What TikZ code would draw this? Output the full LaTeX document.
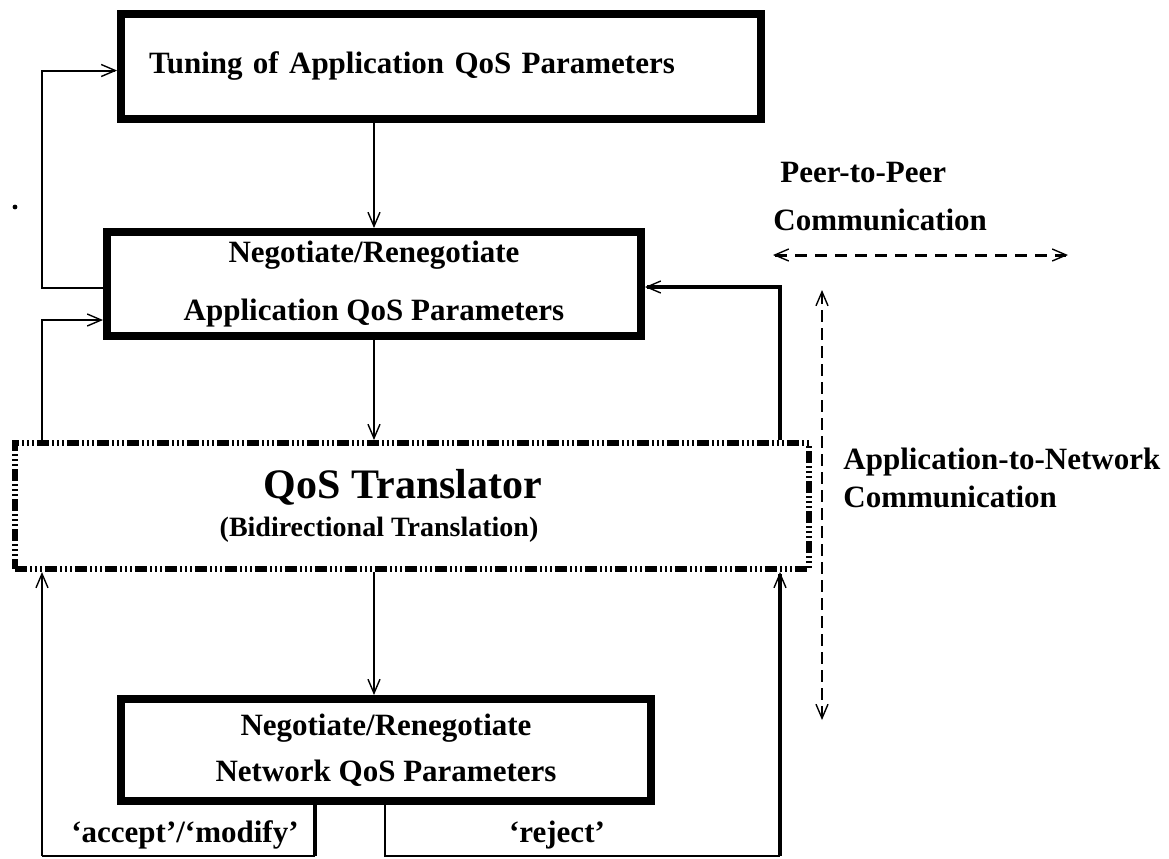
\documentclass[tikz,border=0pt]{standalone}
\usepackage{fontspec}
\setmainfont{Liberation Serif}
\usetikzlibrary{arrows.meta, positioning, calc}
\tikzset{
	qosbox/.style   ={rectangle, draw=black, line width=4pt, align=center, inner sep=0pt},
	transbox/.style ={rectangle, draw=black, line width=3pt, inner sep=0pt,
		dash pattern=on 6pt off 1.5pt on 1pt off 1.5pt on 1pt off 1.5pt on 1pt off 1.5pt},
	lbl/.style      ={font=\fontsize{15.5}{18}\selectfont\bfseries},
	barb/.style     ={-{Straight Barb[length=7pt, width=6pt, line width=0.7pt]}},
	flow/.style     ={barb, line width=1pt},
	loopthin/.style ={line width=1pt},
	loopthick/.style={line width=2pt},
	% dashed communication arrows
	peer/.style     ={{Straight Barb[length=7pt, width=6pt, line width=0.7pt]}-{Straight Barb[length=7pt, width=6pt, line width=0.7pt]}, line width=1.5pt, dash pattern=on 6pt off 4pt},
	a2n/.style      ={{Straight Barb[length=7pt, width=6pt, line width=0.7pt]}-{Straight Barb[length=7pt, width=6pt, line width=0.7pt]}, line width=1pt, dash pattern=on 6pt off 3pt},
}
\begin{document}
\begin{tikzpicture}[x=0.5pt, y=-0.5pt]
	\useasboundingbox (0,0) rectangle (1169,858);
	% boxes
	\node[qosbox, lbl, minimum width=320pt, minimum height=52.5pt, text width=292pt, align=left]
		(tune) at (441,66.5) {Tuning of Application QoS Parameters};
	\node[qosbox, minimum width=267pt, minimum height=52pt, font=\fontsize{15.5}{29}\selectfont\bfseries]
		(app) at (374,284) {Negotiate/Renegotiate\\ Application QoS Parameters};
	\node[transbox, minimum width=397pt, minimum height=63pt] (trans) at (412,506) {};
	\node[font=\fontsize{21}{24}\selectfont\bfseries] (transname) at (403,487) {QoS Translator};
	\node[font=\fontsize{14}{16}\selectfont\bfseries] (transsub) at (379,530) {(Bidirectional Translation)};
	\node[qosbox, minimum width=265pt, minimum height=51pt, font=\fontsize{15.5}{23}\selectfont\bfseries]
		(net) at (386,750) {Negotiate/Renegotiate\\ Network QoS Parameters};

	% corner points of the feedback paths
	\coordinate (accdown) at (315,856);
	\coordinate (accleft) at (42,856);
	\coordinate (rejdown) at (385,856);
	\coordinate (rejright) at (780,856);

	% main flow
	\draw[flow] (app.north |- tune.south) -- (app.north);
	\draw[flow] (app.south) -- (app.south |- trans.north);
	\draw[flow] (app.south |- trans.south) -- (app.south |- net.north);

	% loops on the left
	\draw[flow] ([yshift=-2pt]app.west) -- ([yshift=-2pt]app.west -| accleft) |- ([yshift=-2pt]tune.west);
	\draw[loopthin, barb] (trans.north -| accleft) |- ([yshift=-18pt]app.west);
	% loop on the right
	\draw[loopthick, barb] (trans.north -| rejright) |- ([yshift=-1.5pt]app.east);

	% answers of the network
	\draw[loopthick] (net.south -| accdown) -- (accdown);
	\draw[loopthin] (accdown) -- (accleft);
	\draw[loopthin, barb] (accleft) -- (accleft |- trans.south);
	\draw[loopthin] (net.south -| rejdown) -- (rejdown) -- (rejright);
	\draw[loopthick, barb] (rejright) -- (rejright |- trans.south);
	\node[lbl] (acc) at (185,835) {`accept'/`modify'};
	\node[lbl] (rej) at (557,835) {`reject'};

	% communication
	\node[lbl, anchor=west, inner xsep=0pt] (p2p) at (780,172) {Peer-to-Peer};
	\node[lbl, anchor=west, inner xsep=0pt] (p2pcomm) at (773,220) {Communication};
	\coordinate (p2pl) at (773,255);
	\coordinate (p2pr) at (1068,255);
	\draw[peer] (p2pl) -- (p2pr);
	\coordinate (a2nt) at (822,290);
	\coordinate (a2nb) at (822,720);
	\draw[a2n] (a2nt) -- (a2nb);
	\node[lbl, anchor=west, inner xsep=0pt] (a2nname) at (843,462) {Application-to-Network};
	\node[lbl, anchor=west, inner xsep=0pt] (a2ncomm) at (843,497) {Communication};

	\fill (15,207) circle (1.2pt);
\end{tikzpicture}
\end{document}
